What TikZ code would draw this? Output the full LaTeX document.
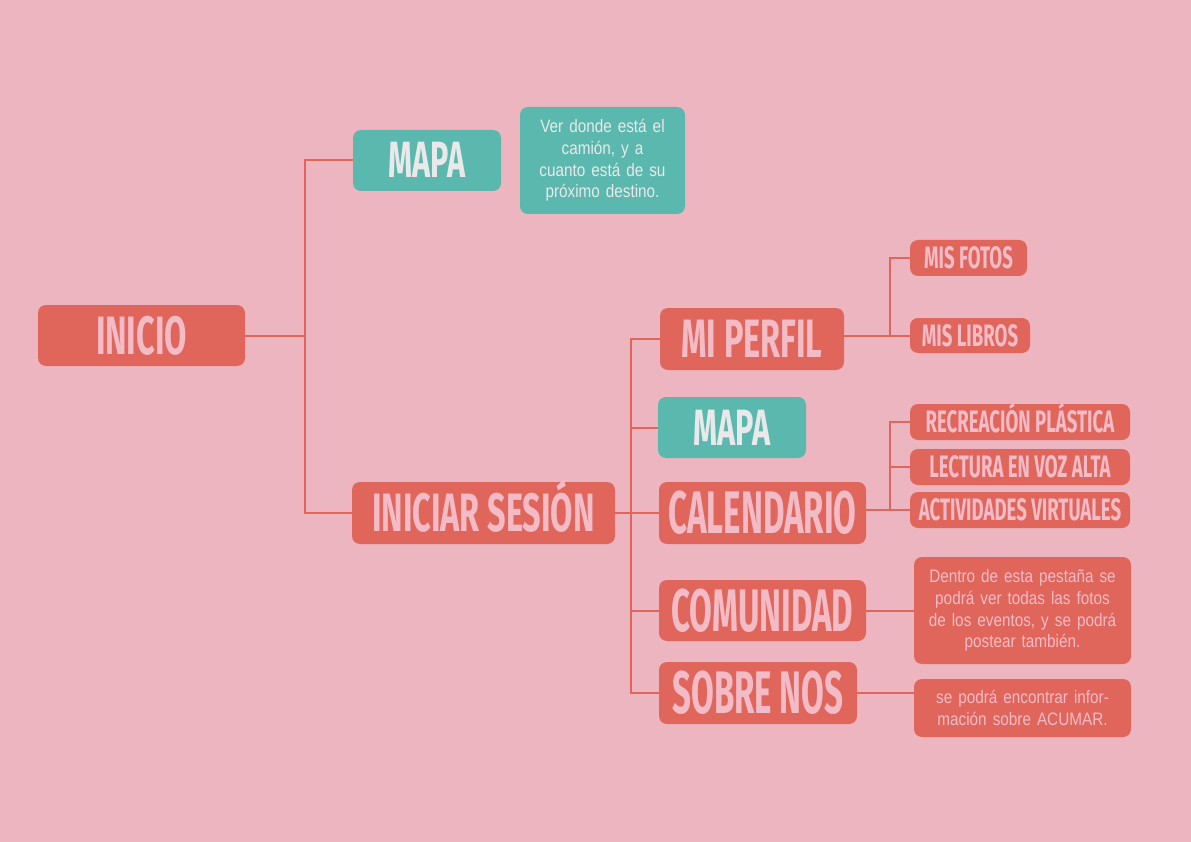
\documentclass[tikz,border=0pt]{standalone}
\usepackage{fontspec}
\setmainfont{Liberation Sans}
\newfontfamily\bebas{Fira Sans}[FakeStretch=0.6]
\newfontfamily\bebasN{Fira Sans}[FakeStretch=0.55]
\newfontfamily\narrow{Liberation Sans}[FakeStretch=0.85, WordSpace=0.6]
\definecolor{bg}{HTML}{EDB5C0}
\definecolor{rd}{HTML}{E0665C}
\definecolor{tl}{HTML}{5BB8AF}
\definecolor{pk}{HTML}{F2BBC6}
\definecolor{gy}{HTML}{E9E9E9}
\tikzset{
  box/.style={rounded corners=8pt, inner sep=0pt, anchor=center},
  redbox/.style={box, fill=rd, text=pk},
  tealbox/.style={box, fill=tl, text=gy},
  bigA/.style={font=\bebas\bfseries\fontsize{54}{54}\selectfont, text height=37pt, text depth=0pt},
  bigB/.style={font=\bebasN\bfseries\fontsize{60}{60}\selectfont, text height=41pt, text depth=0pt},
  bigM/.style={font=\bebas\bfseries\fontsize{51}{51}\selectfont, text height=35pt, text depth=0pt},
  small/.style={font=\bebas\bfseries\fontsize{31}{31}\selectfont, text height=21pt, text depth=0pt},
  desc/.style={font=\narrow\fontsize{18}{21.7}\selectfont, align=center},
  link/.style={draw=rd, line width=2pt}
}
\begin{document}
\begin{tikzpicture}[x=1pt,y=-1pt]
\fill[bg] (0,0) rectangle (1191,842);
\useasboundingbox (0,0) rectangle (1191,842);
% level 0/1
\node[redbox, bigA, minimum width=207pt, minimum height=61pt] (inicio) at (141.5,335.5) {INICIO};
\node[tealbox, bigM, minimum width=148pt, minimum height=61pt] (mapa1) at (427,160.5) {MAPA};
\node[tealbox, desc, minimum width=165pt, minimum height=107pt, text width=160pt] (mapadesc) at (602.5,160.5) {Ver donde está el\\camión, y a\\cuanto está de su\\próximo destino.};
\node[redbox, bigA, minimum width=263pt, minimum height=62pt] (iniciar) at (483.5,513) {INICIAR SESIÓN};
% level 2
\node[redbox, bigA, minimum width=184pt, minimum height=62pt] (perfil) at (752,339) {MI PERFIL};
\node[tealbox, bigM, minimum width=148pt, minimum height=61pt] (mapa2) at (732,427.5) {MAPA};
\node[redbox, bigB, minimum width=207pt, minimum height=62pt] (cal) at (762.5,513) {CALENDARIO};
\node[redbox, bigB, minimum width=207pt, minimum height=61pt] (com) at (762.5,610.5) {COMUNIDAD};
\node[redbox, bigB, minimum width=198pt, minimum height=62pt] (sobre) at (758,693) {SOBRE NOS};
% level 3
\node[redbox, small, minimum width=117pt, minimum height=36pt] (fotos) at (968.5,258) {MIS FOTOS};
\node[redbox, small, minimum width=120pt, minimum height=35pt] (libros) at (970,335.5) {MIS LIBROS};
\node[redbox, small, minimum width=220pt, minimum height=36pt] (recre) at (1020,422) {RECREACIÓN PLÁSTICA};
\node[redbox, small, minimum width=220pt, minimum height=36pt] (lect) at (1020,467) {LECTURA EN VOZ ALTA};
\node[redbox, small, minimum width=220pt, minimum height=36pt] (activ) at (1020,510) {ACTIVIDADES VIRTUALES};
\node[redbox, desc, minimum width=217pt, minimum height=107pt, text width=212pt] (comdesc) at (1022.5,610.5) {Dentro de esta pestaña se\\podrá ver todas las fotos\\de los eventos, y se podrá\\postear también.};
\node[redbox, desc, minimum width=217pt, minimum height=58pt, text width=212pt] (sobdesc) at (1022.5,708) {se podrá encontrar infor-\\mación sobre ACUMAR.};
% junction x positions
\coordinate (b1) at (305,0);
\coordinate (b2) at (631,0);
\coordinate (b3) at (890,0);
% connectors
\draw[link] (inicio.east) -- (b1 |- inicio.east);
\draw[link] (mapa1.west) -| (b1 |- iniciar.west) -- (iniciar.west);
\draw[link] (iniciar.east) -- (b2 |- iniciar.east);
\draw[link] (perfil.west) -| (b2 |- sobre.west) -- (sobre.west);
\draw[link] (mapa2.west) -- (b2 |- mapa2.west);
\draw[link] (cal.west) -- (b2 |- cal.west);
\draw[link] (com.west) -- (b2 |- com.west);
\draw[link] (perfil.east |- libros.west) -- (libros.west);
\draw[link] (fotos.west) -| (b3 |- libros.west);
\draw[link] (cal.east |- activ.west) -- (activ.west);
\draw[link] (recre.west) -| (b3 |- activ.west);
\draw[link] (lect.west) -- (b3 |- lect.west);
\draw[link] (com.east) -- (comdesc.west);
\draw[link] (sobre.east) -- (sobdesc.west |- sobre.east);
\end{tikzpicture}
\end{document}
